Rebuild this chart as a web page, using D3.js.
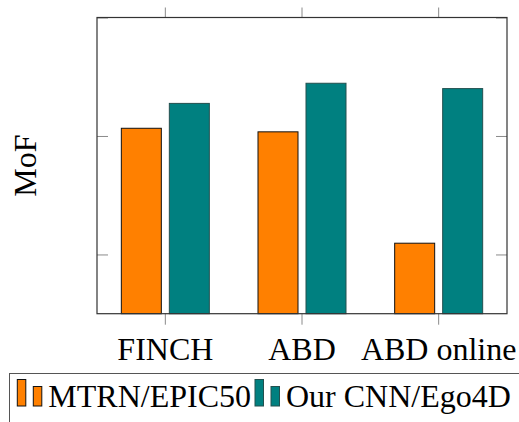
<!DOCTYPE html>
<html>
<head>
<meta charset="utf-8">
<script src="https://cdn.jsdelivr.net/npm/d3@7"></script>
<style>
  html, body { margin: 0; padding: 0; background: #fff; }
  svg { display: block; font-family: "Liberation Serif", "Times New Roman", serif; }
</style>
</head>
<body>
<svg id="chart" width="519" height="422"></svg>
<script>
// Mean over frames (MoF) per segmentation method
const categories = ["FINCH", "ABD", "ABD online"];
const seriesNames = ["MTRN/EPIC50", "Our CNN/Ego4D"];
const mtrnEpic50 = [41.3, 40.7, 21.9];
const ourCnnEgo4d = [45.5, 48.9, 48.0];
const yTicks = [20, 40, 60];
const yLabel = "MoF";

const fills = ["#ff8000", "#008080"];
const strokes = ["#111", "#23504f"];

const svg = d3.select("#chart");
const plot = { left: 97, right: 507, top: 17.5, bottom: 313.7 };

const x = d3.scaleBand().domain(categories).range([plot.left, plot.right]).padding(0);
const xs = d3.scaleBand().domain(seriesNames).range([-44, 44]).paddingInner(8 / 48).paddingOuter(0);
const y = d3.scaleLinear().domain([10, 60]).range([plot.bottom, plot.top]);

const rows = categories.map((c, i) => ({
  cat: c,
  vals: [mtrnEpic50[i], ourCnnEgo4d[i]]
}));

// Bars
const groups = svg.append("g").selectAll("g").data(rows).join("g")
  .attr("transform", d => `translate(${x(d.cat) + x.bandwidth() / 2},0)`);
groups.selectAll("rect").data(d => d.vals.map((v, k) => ({ v, k })))
  .join("rect")
  .attr("x", d => xs(seriesNames[d.k]))
  .attr("width", xs.bandwidth())
  .attr("y", d => y(d.v))
  .attr("height", d => y(10) - y(d.v))
  .attr("fill", d => fills[d.k])
  .attr("stroke", d => strokes[d.k])
  .attr("stroke-width", 1);

// Axes (tick marks only, no numeric labels)
const tickStyle = g => {
  g.select(".domain").remove();
  g.selectAll(".tick line").attr("stroke", "#8a8a8a").attr("stroke-width", 1);
};

svg.append("g").attr("transform", `translate(0,${plot.top})`)
  .call(d3.axisTop(x).tickSize(10).tickFormat(""))
  .call(tickStyle);

const xb = svg.append("g").attr("transform", `translate(0,${plot.bottom})`)
  .call(d3.axisBottom(x).tickSize(11))
  .call(tickStyle);
xb.selectAll(".tick text")
  .attr("y", 46).attr("dy", null)
  .attr("fill", "#000")
  .attr("font-size", 32)
  .attr("font-family", "Liberation Serif, Times New Roman, serif");

svg.append("g").attr("transform", `translate(${plot.left},0)`)
  .call(d3.axisLeft(y).tickValues(yTicks).tickSize(-11).tickFormat(""))
  .call(tickStyle);
svg.append("g").attr("transform", `translate(${plot.right},0)`)
  .call(d3.axisRight(y).tickValues(yTicks).tickSize(-11).tickFormat(""))
  .call(tickStyle);

// Frame
svg.append("rect")
  .attr("x", plot.left).attr("y", plot.top)
  .attr("width", plot.right - plot.left).attr("height", plot.bottom - plot.top)
  .attr("fill", "none").attr("stroke", "#333").attr("stroke-width", 1.2);

// Y label
svg.append("text")
  .attr("transform", `translate(36,${(plot.top + plot.bottom) / 2}) rotate(-90)`)
  .attr("text-anchor", "middle")
  .attr("font-size", 32)
  .text(yLabel);

// Legend
const legend = svg.append("g");
legend.append("rect")
  .attr("x", 9.5).attr("y", 373.5).attr("width", 600).attr("height", 100)
  .attr("fill", "#fff").attr("stroke", "#555").attr("stroke-width", 1);

const legendX = [17.3, 255];
const textX = [48.3, 286];
seriesNames.forEach((name, k) => {
  const g = legend.append("g").attr("transform", `translate(${legendX[k]},0)`);
  // two little bars of unequal height as the series icon
  [{ dx: 0, top: 379.5 }, { dx: 16, top: 386.5 }].forEach(b => {
    g.append("rect")
      .attr("x", b.dx).attr("y", b.top)
      .attr("width", 8.5).attr("height", 406 - b.top)
      .attr("fill", fills[k]).attr("stroke", strokes[k]).attr("stroke-width", 1);
  });
  legend.append("text")
    .attr("x", textX[k]).attr("y", 407)
    .attr("font-size", 32)
    .text(name);
});
</script>
</body>
</html>
